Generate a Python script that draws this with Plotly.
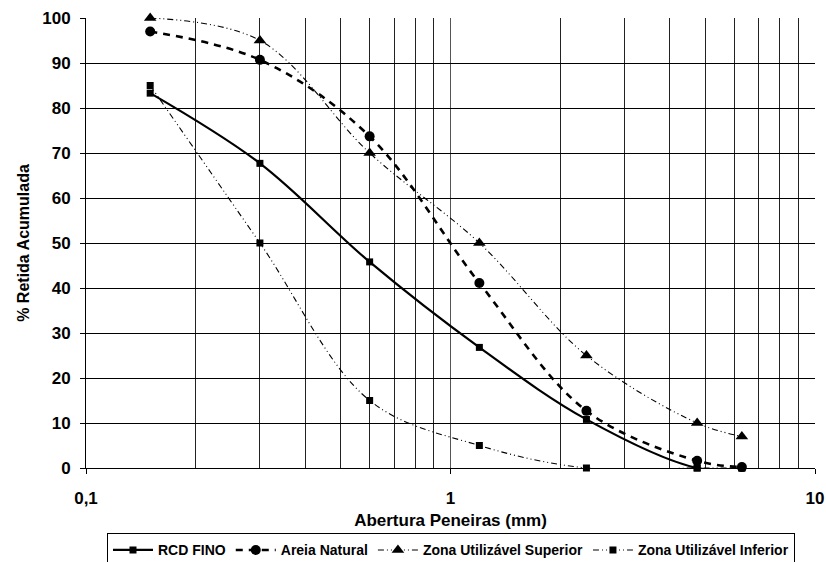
import plotly.graph_objects as go

# Sieve openings (mm)
aberturas = [0.15, 0.3, 0.6, 1.2, 2.36, 4.75, 6.3]

# % retained (cumulative)
rcd_fino = [83.3, 67.7, 45.8, 26.8, 10.8, 0.0, 0.0]
areia_natural = [97.0, 90.7, 73.7, 41.1, 12.7, 1.6, 0.2]
zona_superior = [100, 95, 70, 50, 25, 10, 7]
zona_inferior = [85, 50, 15, 5, 0, 0, 0]

x_major_ticks = [0.1, 1, 10]
x_major_text = ["0,1", "1", "10"]
x_minor_ticks = [0.2, 0.3, 0.4, 0.5, 0.6, 0.7, 0.8, 0.9,
                 2, 3, 4, 5, 6, 7, 8, 9]
y_ticks = list(range(0, 101, 10))

FONT = "Liberation Sans, Arial, sans-serif"

fig = go.Figure()

series = [
    ("RCD FINO", rcd_fino, dict(color="black", width=2.2, dash="solid"),
     dict(symbol="square", size=7, color="black")),
    ("Areia Natural", areia_natural, dict(color="black", width=2.6, dash="7px,6px"),
     dict(symbol="circle", size=10, color="black")),
    ("Zona Utilizável Superior", zona_superior,
     dict(color="black", width=1.1, dash="6px,3px,1px,3px,1px,3px"),
     dict(symbol="triangle-up", size=11, color="black")),
    ("Zona Utilizável Inferior", zona_inferior,
     dict(color="black", width=1.1, dash="6px,3px,1px,3px,1px,3px"),
     dict(symbol="square", size=7, color="black")),
]

for name, ys, line, marker in series:
    fig.add_trace(go.Scatter(
        x=aberturas, y=ys, name=name, mode="lines+markers",
        line=dict(shape="spline", smoothing=1.0, **line),
        marker=marker, cliponaxis=False,
    ))

fig.update_layout(
    width=826, height=562,
    margin=dict(l=86, r=11, t=18, b=94),
    paper_bgcolor="white", plot_bgcolor="white",
    font=dict(family=FONT, color="black"),
    showlegend=True,
    legend=dict(
        orientation="h", xref="container", yref="container",
        x=0.546, xanchor="center", y=0.051, yanchor="top",
        bordercolor="black", borderwidth=1, bgcolor="white",
        font=dict(family=FONT, size=14, color="black", weight="bold"),
        itemwidth=40, tracegroupgap=0,
    ),
    xaxis=dict(
        type="log", range=[-1, 1], automargin=False,
        tickmode="array", tickvals=x_major_ticks, ticktext=x_major_text,
        ticks="outside", ticklen=5, tickcolor="black",
        ticklabelstandoff=10,
        tickfont=dict(family=FONT, size=17, color="black", weight="bold"),
        showgrid=True, gridcolor="#555555", gridwidth=1,
        minor=dict(tickmode="array", tickvals=x_minor_ticks, showgrid=True,
                   gridcolor="#222222", gridwidth=1, ticks=""),
        showline=True, linecolor="black", linewidth=1,
        zeroline=False,
        title=dict(text="Abertura Peneiras (mm)", standoff=6,
                   font=dict(family=FONT, size=17, color="black", weight="bold")),
    ),
    yaxis=dict(
        range=[0, 100], tickmode="array", tickvals=y_ticks, automargin=False,
        ticks="outside", ticklen=5, tickcolor="black",
        ticklabelstandoff=6,
        tickfont=dict(family=FONT, size=17, color="black", weight="bold"),
        showgrid=True, gridcolor="black", gridwidth=1,
        showline=True, linecolor="black", linewidth=1,
        zeroline=False,
        title=dict(text="% Retida Acumulada", standoff=8,
                   font=dict(family=FONT, size=16, color="black", weight="bold")),
    ),
)

fig.write_html("out.html")
